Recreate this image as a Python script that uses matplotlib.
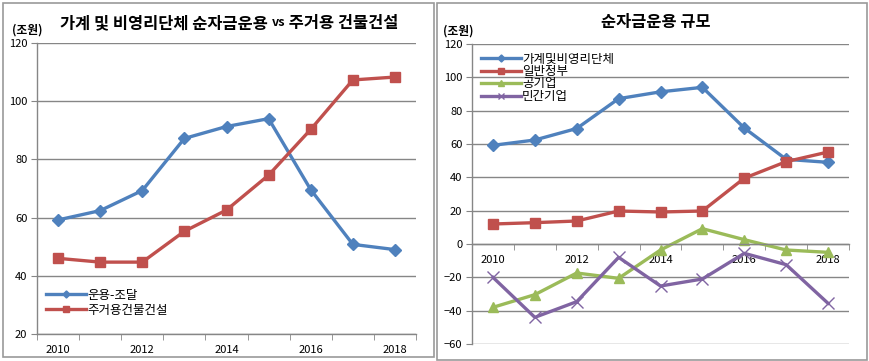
import numpy as np
import matplotlib
matplotlib.use("Agg")
import matplotlib.pyplot as plt
from matplotlib.patches import Rectangle

plt.rcParams['font.family'] = ['Noto Sans CJK KR', 'DejaVu Sans']

# data
years = ['2010', '2011', '2012', '2013', '2014', '2015', '2016', '2017', '2018']
tick_years = ['2010', '', '2012', '', '2014', '', '2016', '', '2018']

household = [59.2, 62.4, 69.3, 87.2, 91.3, 94.0, 69.6, 50.8, 49.0]
housing = [46.0, 44.7, 44.7, 55.3, 62.6, 74.6, 90.3, 107.3, 108.3]

government = [12.0, 12.8, 13.8, 19.8, 19.2, 19.8, 39.5, 49.4, 55.2]
public_corp = [-38.0, -30.4, -17.4, -20.6, -3.6, 9.2, 2.6, -3.6, -5.0]
private_corp = [-20.0, -44.0, -34.6, -8.0, -25.2, -21.0, -5.6, -12.4, -35.6]

BLUE = '#4F81BD'
RED = '#C0504D'
GREEN = '#9BBB59'
PURPLE = '#8064A2'
GRID = '#868686'

W, H = 869, 361
fig = plt.figure(figsize=(W / 100, H / 100), dpi=100)
fig.patch.set_facecolor('white')

# panel frames
for x0, x1, y1 in [(3, 434, 357), (437, 867, 360)]:
    fig.patches.append(Rectangle((x0 / W, 1 - y1 / H), (x1 - x0) / W, (y1 - 3) / H,
                                 transform=fig.transFigure, fill=False,
                                 edgecolor='#9a9a9a', lw=1.2))


def px_axes(left, top, right, bottom):
    return fig.add_axes([left / W, 1 - bottom / H, (right - left) / W, (bottom - top) / H])


def style_axes(ax, ymin, ymax):
    x = np.arange(len(years))
    ax.set_xlim(-0.5, len(years) - 0.5)
    ax.set_ylim(ymin, ymax)
    ax.set_yticks(np.arange(ymin, ymax + 1, 20))
    ax.yaxis.grid(True, color=GRID, lw=1.0)
    ax.set_axisbelow(True)
    for s in ['top', 'right']:
        ax.spines[s].set_visible(False)
    for s in ['left', 'bottom']:
        ax.spines[s].set_color(GRID)
        ax.spines[s].set_linewidth(1.0)
    ax.set_xticks(x)
    ax.set_xticklabels(tick_years)
    ax.set_xticks(np.arange(-0.5, len(years), 1), minor=True)
    ax.tick_params(axis='x', which='major', length=0, labelsize=8, pad=8)
    ax.tick_params(axis='x', which='minor', length=4, color=GRID, direction='out')
    ax.tick_params(axis='y', length=4, color=GRID, labelsize=8, pad=3)
    return x


# left chart
ax1 = px_axes(37, 43, 416, 334)
x = style_axes(ax1, 20, 120)
ax1.plot(x, household, color=BLUE, lw=2.4, marker='D', ms=6, label='운용-조달')
ax1.plot(x, housing, color=RED, lw=2.4, marker='s', ms=7.5, label='주거용건물건설')
ax1.legend(loc='lower left', bbox_to_anchor=(0.0, 0.03), frameon=False, fontsize=9,
           handlelength=3.2, handletextpad=0.1, labelspacing=0.15, markerscale=0.6,
           borderaxespad=0.3)

# title with a smaller "vs"
t1 = fig.text(0, 0, '가계 및 비영리단체 순자금운용 ', fontsize=11.8, fontweight='bold')
t2 = fig.text(0, 0, 'vs', fontsize=9, fontweight='bold')
t3 = fig.text(0, 0, ' 주거용 건물건설', fontsize=11.8, fontweight='bold')
fig.canvas.draw()
r = fig.canvas.get_renderer()
ws = [t.get_window_extent(r).width for t in (t1, t2, t3)]
xs = 229 - sum(ws) / 2
for t, w in zip((t1, t2, t3), ws):
    t.set_position((xs / W, 1 - 23 / H))
    t.set_va('center')
    xs += w

fig.text(12 / W, 1 - 30 / H, '(조원)', ha='left', va='center', fontsize=8.5, fontweight='bold')

# right chart
ax2 = px_axes(472, 44, 849, 344)
x = style_axes(ax2, -60, 120)
ax2.spines['bottom'].set_position(('data', 0))
ax2.plot(x, household, color=BLUE, lw=2.4, marker='D', ms=6, label='가계및비영리단체')
ax2.plot(x, government, color=RED, lw=2.4, marker='s', ms=7.5, label='일반정부')
ax2.plot(x, public_corp, color=GREEN, lw=2.4, marker='^', ms=7.5, label='공기업')
ax2.plot(x, private_corp, color=PURPLE, lw=2.4, marker='x', ms=8, mew=1.0, label='민간기업')
ax2.legend(loc='upper left', bbox_to_anchor=(0.0, 1.0), frameon=False, fontsize=9,
           handlelength=3.2, handletextpad=0.1, labelspacing=-0.05, markerscale=0.6,
           borderaxespad=0.3)
fig.text(656 / W, 1 - 22 / H, '순자금운용 규모', ha='center', va='center',
         fontsize=11.8, fontweight='bold')
fig.text(443 / W, 1 - 31 / H, '(조원)', ha='left', va='center', fontsize=8.5, fontweight='bold')

fig.savefig('out.png', dpi=100)
